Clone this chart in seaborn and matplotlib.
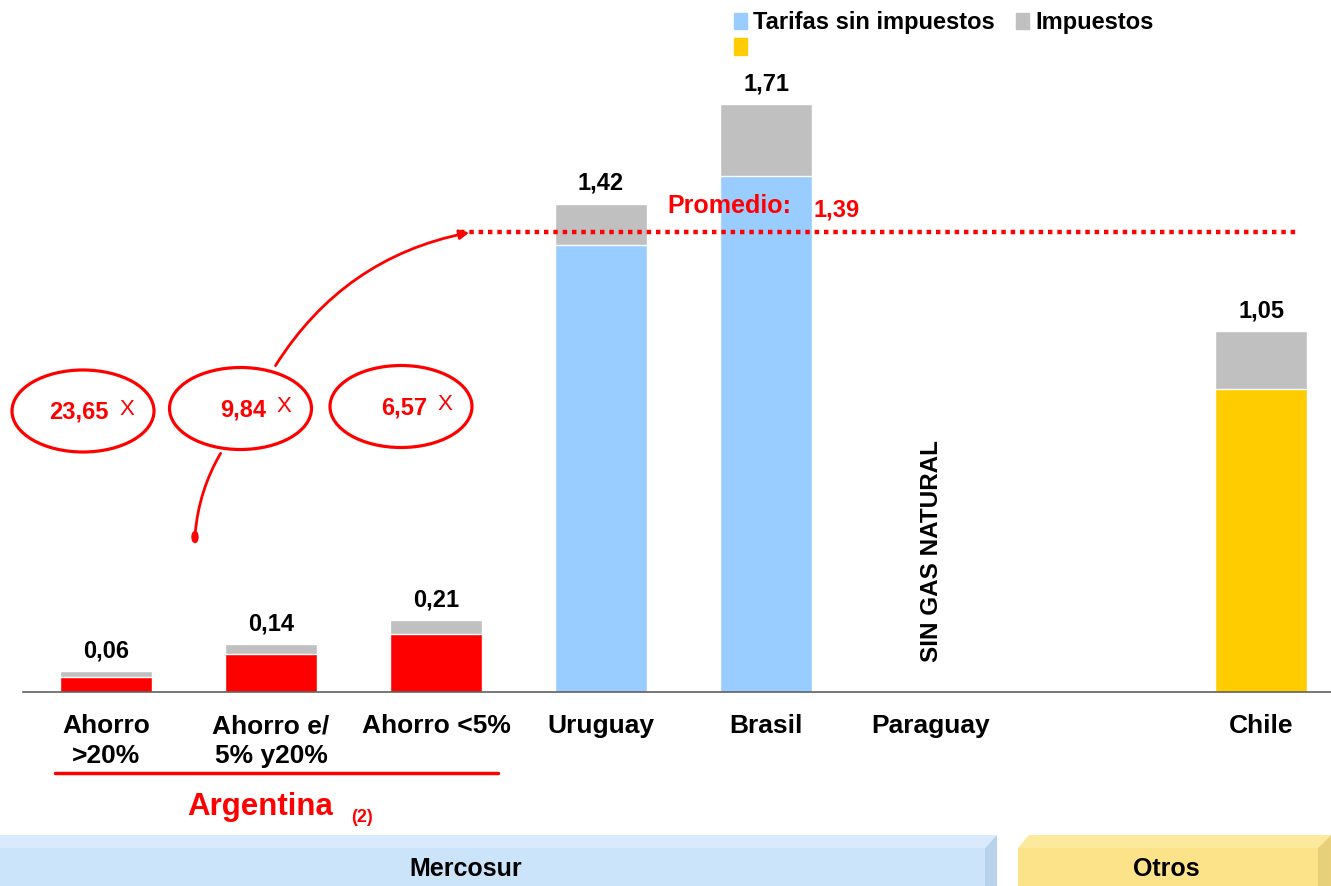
import numpy as np
import pandas as pd
import matplotlib
matplotlib.use("Agg")
import matplotlib.pyplot as plt
import seaborn as sns
from matplotlib.patches import Ellipse, Polygon, FancyArrowPatch, Patch

# --- datos ---
categorias = ["Ahorro\n>20%", "Ahorro e/\n5% y20%", "Ahorro <5%", "Uruguay", "Brasil", "Paraguay", " ", "Chile"]
tarifas = [0.044, 0.11, 0.17, 1.30, 1.50, 0.0, 0.0, 0.88]
totales = [0.06, 0.14, 0.21, 1.42, 1.71, 0.0, 0.0, 1.05]
etiquetas = ["0,06", "0,14", "0,21", "1,42", "1,71", "", "", "1,05"]
colores = ["#ff0000", "#ff0000", "#ff0000", "#99ccff", "#99ccff", "#99ccff", "#99ccff", "#ffcc00"]
multiplos = ["23,65", "9,84", "6,57"]
promedio_linea = 1.337
promedio_txt = "1,39"

df = pd.DataFrame({"pais": categorias, "tarifa": tarifas, "total": totales})

sns.set_theme(style="white")
plt.rcParams["font.family"] = ["Liberation Sans", "DejaVu Sans"]
plt.rcParams["text.color"] = "black"
plt.rcParams["xtick.color"] = "black"

W, H = 1331, 886
fig = plt.figure(figsize=(W / 100, H / 100), dpi=100)

base_px = 692
px_por_unidad = 343.9
ax = fig.add_axes([23 / W, (H - base_px) / H, (W - 23) / W, base_px / H])

sns.barplot(data=df, x="pais", y="total", order=categorias, color="#c0c0c0",
            width=0.56, ax=ax, errorbar=None, saturation=1)
sns.barplot(data=df, x="pais", y="tarifa", order=categorias, hue="pais",
            palette=colores, width=0.56, ax=ax, errorbar=None, saturation=1, legend=False)

ax.set_xlim((23 - 106) / 165, (W - 106) / 165)
ax.set_ylim(0, base_px / px_por_unidad)
ax.set_xlabel("")
ax.set_ylabel("")
ax.set_yticks([])
for s in ["top", "left", "right"]:
    ax.spines[s].set_visible(False)
ax.spines["bottom"].set_color("#606060")
ax.spines["bottom"].set_linewidth(1.2)
ax.tick_params(axis="x", length=0, pad=16)
for t in ax.get_xticklabels():
    t.set_fontsize(19)
    t.set_fontweight("bold")
    t.set_color("black")
    t.set_linespacing(1.3)

for i, (tot, lab) in enumerate(zip(totales, etiquetas)):
    if lab:
        ax.text(i, tot + 0.04, lab, ha="center", va="baseline", fontsize=17, fontweight="bold", color="black")

# línea de promedio
ax.hlines(promedio_linea, (460 - 106) / 165, (1297 - 106) / 165, colors="#ff0000",
          linestyles=(0, (1, 1.1)), linewidth=3.2)
ax.text((667 - 106) / 165, (base_px - 213) / px_por_unidad, "Promedio:", color="#ff0000",
        fontsize=18, fontweight="bold", va="baseline")
ax.text((813 - 106) / 165, (base_px - 216) / px_por_unidad, promedio_txt, color="#ff0000",
        fontsize=17, fontweight="bold", va="baseline")

ax.text(5, 0.087, "SIN GAS NATURAL", rotation=90, ha="center", va="bottom",
        fontsize=17.5, fontweight="bold", color="black")

# capa de anotaciones en píxeles
ov = fig.add_axes([0, 0, 1, 1], facecolor="none")
ov.set_xlim(0, W)
ov.set_ylim(H, 0)
ov.axis("off")

elipses = [(83, 411), (240.5, 408.5), (401, 406.5)]
for (cx, cy), txt in zip(elipses, multiplos):
    ov.add_patch(Ellipse((cx, cy), 142, 82, fill=False, edgecolor="#ff0000", linewidth=2.3))
    ov.text(cx + 26, cy + 1, txt, color="#ff0000", fontsize=17, fontweight="bold", ha="right", va="center")
    ov.text(cx + 36, cy - 2, "X", color="#ff0000", fontsize=16, ha="left", va="center")

ov.add_patch(FancyArrowPatch((274, 368), (472, 232), connectionstyle="arc3,rad=-0.22",
                             arrowstyle="-|>", mutation_scale=14, color="#ff0000", linewidth=2))
ov.add_patch(FancyArrowPatch((222, 451), (195, 536), connectionstyle="arc3,rad=0.12",
                             arrowstyle="-", color="#ff0000", linewidth=2))
ov.add_patch(Ellipse((195, 537), 6, 11, color="#ff0000"))

ov.plot([55, 498], [773, 773], color="#ff0000", linewidth=2.5)
ov.text(260, 815, "Argentina", color="#ff0000", fontsize=22.5, fontweight="bold", ha="center", va="baseline")
ov.text(362, 822, "(2)", color="#ff0000", fontsize=13, fontweight="bold", ha="center", va="baseline")

# bandas inferiores
ov.add_patch(Polygon([[0, 835], [997, 835], [985, 848], [0, 848]], closed=True, color="#d9eafc", lw=0))
ov.add_patch(Polygon([[0, 848], [985, 848], [985, 886], [0, 886]], closed=True, color="#cce4fa", lw=0))
ov.add_patch(Polygon([[985, 848], [997, 835], [997, 886], [985, 886]], closed=True, color="#b8d2ea", lw=0))
ov.text(466, 869, "Mercosur", fontsize=18, fontweight="bold", ha="center", va="center")

ov.add_patch(Polygon([[1029, 835], [1331, 835], [1318, 848], [1018, 848]], closed=True, color="#fde99c", lw=0))
ov.add_patch(Polygon([[1018, 848], [1318, 848], [1318, 886], [1018, 886]], closed=True, color="#fce38a", lw=0))
ov.add_patch(Polygon([[1318, 848], [1331, 835], [1331, 886], [1318, 886]], closed=True, color="#e8d07a", lw=0))
ov.text(1166, 869, "Otros", fontsize=18, fontweight="bold", ha="center", va="center")

# leyenda
handles = [Patch(color="#99ccff", label="Tarifas sin impuestos"),
           Patch(color="#ffcc00", label=""),
           Patch(color="#c0c0c0", label="Impuestos")]
leg = fig.legend(handles=handles, ncol=2, loc="upper left", bbox_to_anchor=(720 / W, 1 + 3 / H),
                 frameon=False, fontsize=17, handlelength=0.55, handleheight=0.7,
                 handletextpad=0.25, columnspacing=0.9, labelspacing=0.1, borderpad=0.1)
for t in leg.get_texts():
    t.set_fontweight("bold")

fig.savefig("out.png", dpi=100)
